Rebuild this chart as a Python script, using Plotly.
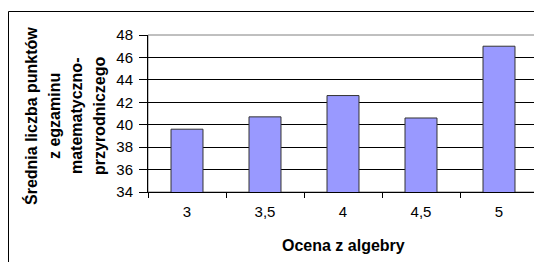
import plotly.graph_objects as go

categories = ["3", "3,5", "4", "4,5", "5"]
values = [39.6, 40.7, 42.6, 40.6, 47.0]
y_ticks = [34, 36, 38, 40, 42, 44, 46, 48]
y_title_lines = ["Średnia liczba punktów", "z egzaminu", "matematyczno-", "przyrodniczego"]
x_title = "Ocena z algebry"

# page body has an 8px margin, so figure coords = screen coords - 8
W, H = 534, 254
L, R, T, B = 140, 4, 27, 70
pw, ph = W - L - R, H - T - B

def px_x(p):
    return (p - L) / pw

def px_y(p):
    return (H - B - p) / ph

font = "Liberation Sans, Arial, sans-serif"

fig = go.Figure(go.Bar(
    x=categories, y=values,
    marker=dict(color="#9999FF", line=dict(color="#333333", width=1)),
))

fig.update_layout(
    width=W, height=H,
    margin=dict(l=L, r=R, t=T, b=B),
    paper_bgcolor="white", plot_bgcolor="white",
    bargap=0.59, showlegend=False,
    font=dict(family=font, size=15, color="black"),
)
fig.update_xaxes(
    type="category", tickson="boundaries", ticks="outside", ticklen=5,
    tickcolor="black", showline=True, linecolor="black", linewidth=1,
    showgrid=False, ticklabelstandoff=6,
    tickfont=dict(size=15),
)
fig.update_yaxes(
    range=[34, 48], tickvals=y_ticks, ticks="outside", ticklen=8,
    tickcolor="black", showline=True, linecolor="black", linewidth=1,
    showgrid=True, gridcolor="black", gridwidth=1, zeroline=False,
    ticklabelstandoff=3,
    tickfont=dict(size=15),
)

shapes = [
    dict(type="rect", xref="paper", yref="paper", x0=0, x1=1, y0=0, y1=1,
         line=dict(color="#808080", width=1), layer="below"),
    dict(type="rect", xref="paper", yref="paper",
         x0=px_x(0.5), x1=px_x(600), y0=px_y(400), y1=px_y(3.5),
         line=dict(color="black", width=1), layer="above"),
]
fig.update_layout(shapes=shapes)

annotations = []
for cx, line in zip([23, 46, 68, 91], y_title_lines):
    annotations.append(dict(
        text=f"<b>{line}</b>", xref="paper", yref="paper",
        x=px_x(cx), y=px_y(108), xanchor="center", yanchor="middle",
        textangle=-90, showarrow=False, font=dict(size=16, family=font),
    ))
annotations.append(dict(
    text=f"<b>{x_title}</b>", xref="paper", yref="paper",
    x=0.5, y=px_y(237), xanchor="center", yanchor="middle",
    showarrow=False, font=dict(size=16, family=font),
))
fig.update_layout(annotations=annotations)

fig.write_html("out.html")
